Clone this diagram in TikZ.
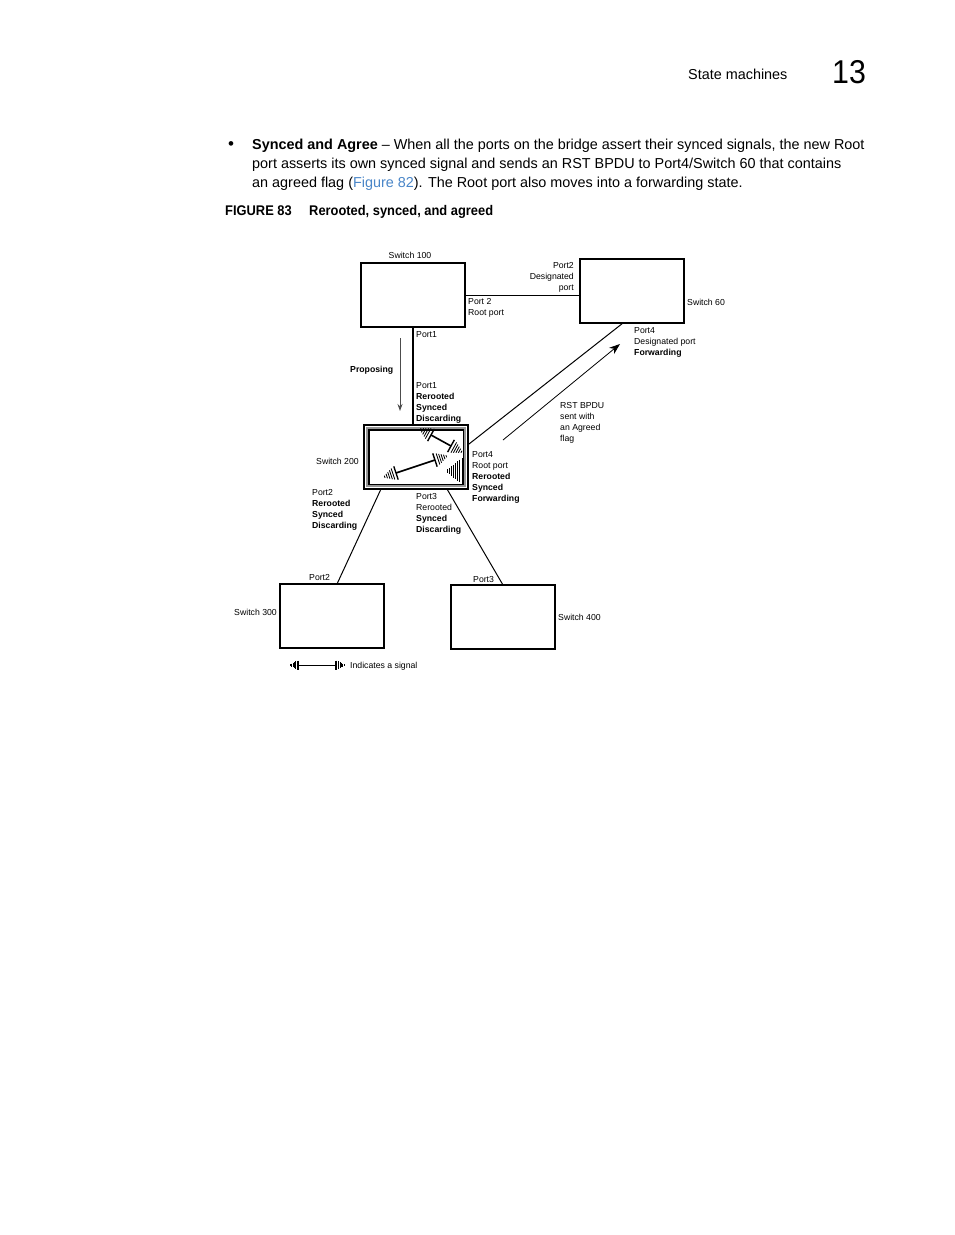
\documentclass[tikz,border=0pt]{standalone}
\usepackage{fontspec}
\setmainfont{Liberation Sans}
\newfontfamily\bodyfont{Liberation Sans}
\newfontfamily\capfont[FakeStretch=0.92]{Liberation Sans}
\usetikzlibrary{positioning,calc,arrows.meta,decorations.markings}
\definecolor{linkblue}{RGB}{74,134,200}
\definecolor{framegray}{RGB}{150,150,150}
\newcommand\sigtip[2]{%
  \draw[line width=1.4pt] (0,-#2) -- (0,#2);
  \foreach \k in {1,...,5}
    \draw[line width={#2*0.12pt}] ({#1*(1+\k*#2/3.2)},{-#2*(1-\k/6)}) -- ({#1*(1+\k*#2/3.2)},{#2*(1-\k/6)});
}
\tikzset{
  switchbox/.style={draw, line width=2.6pt, minimum width=104pt, minimum height=64pt, inner sep=0pt, outer sep=0pt},
  lbl/.style={font=\fontsize{8.7}{11}\selectfont, inner sep=0pt, align=left},
  bodytxt/.style={font=\bodyfont\fontsize{14.4}{19}\selectfont, inner sep=0pt, align=left},
  captxt/.style={font=\capfont\fontsize{14}{19}\selectfont, inner sep=0pt},
  link/.style={line width=1pt},
  signal/.style={line width=1.6pt, postaction={decorate, decoration={markings,
      mark=at position 0 with {\sigtip{-1}{#1}},
      mark=at position 0.999 with {\sigtip{1}{#1}}}}},
}
\begin{document}
\begin{tikzpicture}[x=1pt,y=-1pt]
\useasboundingbox[fill=white] (0,0) rectangle (954,1235);

\node[bodytxt, anchor=base west] (sect) at (688,79) {State machines};
\node[font=\capfont\fontsize{33}{33}\selectfont, inner sep=0pt, anchor=base west] (chap) at (832,83) {13};
\node[font=\bodyfont\fontsize{17}{19}\selectfont, inner sep=0pt, anchor=base west] (bullet) at (228,149) {•};
\node[bodytxt, anchor=north west] (para) at (252,138.5) {\textbf{Synced and Agree} – When all the ports on the bridge assert their synced signals, the new Root\\
port asserts its own synced signal and sends an RST BPDU to Port4/Switch 60 that contains\\
an agreed flag (\textcolor{linkblue}{Figure 82}). The Root port also moves into a forwarding state.};
\node[captxt, anchor=base west] (fignum) at (225,215) {\textbf{FIGURE 83}};
\node[captxt, anchor=base west] (figcap) at (309,215) {\textbf{Rerooted, synced, and agreed}};

\node[switchbox] (sw100) at (413,295) {};
\node[switchbox] (sw60) at (632,291) {};
\node[switchbox, line width=2.2pt] (sw200) at (416,457) {};
\node[switchbox] (sw300) at (332,616) {};
\node[switchbox] (sw400) at (503,617) {};
\draw[framegray, line width=2.4pt] ($(sw200.south west)+(2.8,-2.8)$) rectangle ($(sw200.north east)+(-2.8,2.8)$);
\draw[line width=1.2pt] ($(sw200.south west)+(4.9,-4.9)$) rectangle ($(sw200.north east)+(-4.9,4.9)$);

\draw[link] (sw100.east) -- (sw100.east -| sw60.west);
\draw[line width=2pt] (sw100.south) -- (sw100.south |- sw200.north);
\draw[link] ($(sw200.east)+(1,-13)$) -- ($(sw60.south)+(-9,0)$);
\draw[link] ($(sw200.south)+(-35,0)$) -- ($(sw300.north)+(5,0)$);
\draw[link] ($(sw200.south)+(31,0)$) -- (sw400.north);

\coordinate (prop1) at (400,338);
\coordinate (prop2) at (400,411);
\draw[line width=0.9pt, black!70, -{Stealth[length=7pt,width=5pt]}] (prop1) -- (prop2);
\coordinate (rst1) at (503,440);
\coordinate (rst2) at (620,344);
\draw[line width=0.8pt, -{Stealth[length=11pt,width=8pt]}] (rst1) -- (rst2);

\coordinate (sa1) at (431,435);
\coordinate (sa2) at (451,446);
\coordinate (sb1) at (396,473);
\coordinate (sb2) at (435,460);
\draw[signal=7] (sa1) -- (sa2);
\draw[signal=7] (sb1) -- (sb2);
\coordinate (p4sig) at (462,471);
\foreach \k in {0,...,7}
  \draw[line width=0.9pt] ($(p4sig)+(-2.1*\k,{-13*(1-\k/8)})$) -- ($(p4sig)+(-2.1*\k,{13*(1-\k/8)})$);

\node[lbl, anchor=base] (l100) at (410,258) {Switch 100};
\node[lbl, anchor=north east, align=right] (l60p2) at (574,262.7) {Port2\\Designated\\port};
\node[lbl, anchor=north west] (l100p2) at (468,298.7) {Port 2\\Root port};
\begin{scope}
  \clip (684,290) rectangle (725,315);
  \node[lbl, anchor=base west] (l60) at (687,305) {Switch 60};
\end{scope}
\node[lbl, anchor=base west] (l100p1) at (416,337) {Port1};
\node[lbl, anchor=north west] (l60p4) at (634,327.7) {Port4\\Designated port\\\textbf{Forwarding}};
\node[lbl, anchor=base west] (lprop) at (350,372) {\textbf{Proposing}};
\node[lbl, anchor=north west] (l200p1) at (416,382.7) {Port1\\\textbf{Rerooted}\\\textbf{Synced}\\\textbf{Discarding}};
\node[lbl, anchor=north west] (lrst) at (560,402.7) {RST BPDU\\sent with\\an Agreed\\flag};
\node[lbl, anchor=base west] (l200) at (316,464) {Switch 200};
\node[lbl, anchor=north west] (l200p4) at (472,451.7) {Port4\\Root port\\\textbf{Rerooted}\\\textbf{Synced}\\\textbf{Forwarding}};
\node[lbl, anchor=north west] (l200p2) at (312,489.7) {Port2\\\textbf{Rerooted}\\\textbf{Synced}\\\textbf{Discarding}};
\node[lbl, anchor=north west] (l200p3) at (416,493.7) {Port3\\Rerooted\\\textbf{Synced}\\\textbf{Discarding}};
\node[lbl, anchor=base west] (l300p2) at (309,580) {Port2};
\node[lbl, anchor=base west] (l400p3) at (473,582) {Port3};
\node[lbl, anchor=base east] (l300) at (277,615) {Switch 300};
\node[lbl, anchor=base west] (l400) at (558,620) {Switch 400};

\coordinate (leg1) at (298,665);
\coordinate (leg2) at (336,665);
\draw[signal=4.5, line width=1pt] (leg1) -- (leg2);
\node[lbl, anchor=base west] (legtxt) at (350,668) {Indicates a signal};
\end{tikzpicture}
\end{document}
